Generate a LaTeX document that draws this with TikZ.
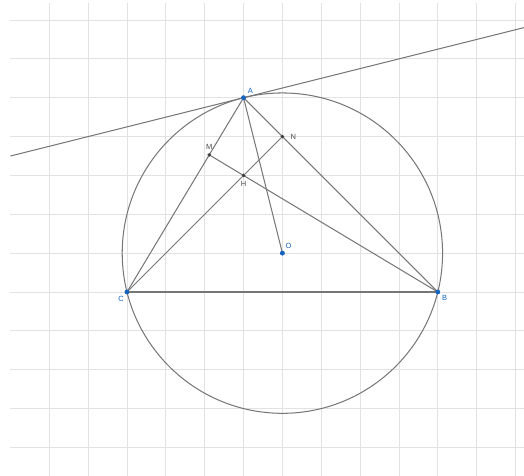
\documentclass[tikz,border=0pt]{standalone}
\usepackage{fontspec}
\setsansfont{Liberation Sans}
\definecolor{ggblue}{RGB}{21,101,192}
\definecolor{gridgray}{RGB}{226,226,226}
\definecolor{linegray}{RGB}{118,118,118}
\tikzset{
  bluept/.style={circle, fill=ggblue, inner sep=0pt, minimum size=3.4pt},
  darkpt/.style={circle, fill=black!75, inner sep=0pt, minimum size=2.6pt},
  bluelbl/.style={font=\sffamily\fontsize{5.5}{6}\selectfont, text=ggblue, inner sep=1pt},
  darklbl/.style={font=\sffamily\fontsize{5.5}{6}\selectfont, text=black!70, inner sep=1pt}
}
\begin{document}
\begin{tikzpicture}[line width=0.75pt]
\useasboundingbox (-3.269,-4.736) rectangle (10.219,7.516);
% grid
\foreach \x in {-2,...,10} \draw[gridgray, line width=0.6pt] (\x,7.43) -- (\x,-4.736);
\foreach \y in {-4,...,7} \draw[gridgray, line width=0.6pt] (-3,\y) -- (10.219,\y);
% points
\node[bluept, label={[bluelbl, label distance=0.5pt]above right:A}] (A) at (3,5) {};
\node[bluept, label={[bluelbl, label distance=0pt]-120:C}] (C) at (0,0) {};
\node[bluept, label={[bluelbl, label distance=0pt]-25:B}] (B) at (8,0) {};
\node[bluept, label={[bluelbl, label distance=0pt]60:O}] (O) at (4,1) {};
\node[darkpt, label={[darklbl, label distance=1pt]above:M}] (M) at (2.1176,3.5294) {};
\node[darkpt, label={[darklbl, label distance=3pt]right:N}] (N) at (4,4) {};
\node[darkpt, label={[darklbl, label distance=1.5pt]below:H}] (H) at (3,3) {};
\coordinate (tl) at (-3,3.5);
\coordinate (tr) at (10.219,6.8048);
% figure
\begin{scope}[linegray]
\draw (O.center) circle (4.1231);
\draw (tl) -- (tr);
\draw (A.center) -- (C.center);
\draw (A.center) -- (B.center);
\draw (C.center) -- (B.center);
\draw (A.center) -- (O.center);
\draw (M.center) -- (B.center);
\draw (C.center) -- (N.center);
\end{scope}
% redraw dots on top
\foreach \p in {A,B,C,O} \fill[ggblue] (\p.center) circle (1.7pt);
\foreach \p in {M,N,H} \fill[black!75] (\p.center) circle (1.3pt);
\end{tikzpicture}
\end{document}
